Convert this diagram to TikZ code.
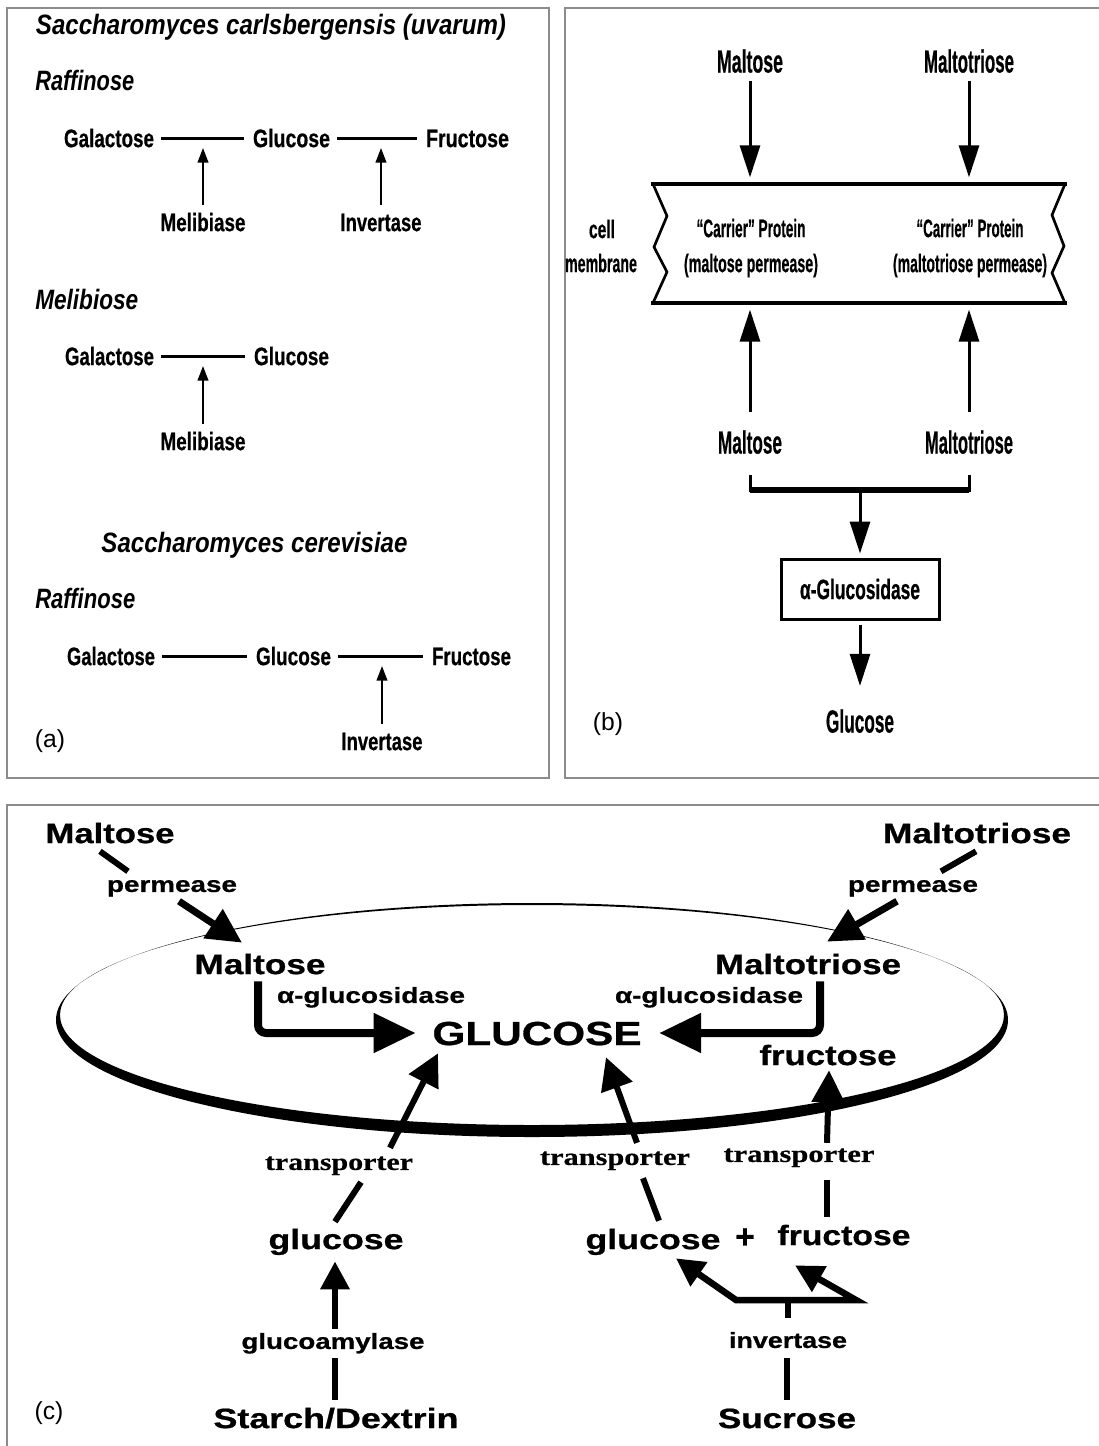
\documentclass[tikz,border=0pt]{standalone}
\usepackage{fontspec}
\usepackage{graphicx}
\setmainfont{Liberation Sans}[BoldFeatures={FakeBold=0.7}]
\newfontfamily\serifbf{Liberation Serif}[BoldFeatures={FakeBold=0.5}]
\usetikzlibrary{arrows.meta}
\newdimen\pxu \pxu=0.75pt
\newcommand\fitw[2]{\resizebox{#1\pxu}{\height}{#2}}
\begin{document}
\begin{tikzpicture}[x=0.75pt,y=-0.75pt,line cap=butt,
  txt/.style={inner sep=0pt,text depth=0pt,anchor=center},
  hA/.style={txt,font=\fontsize{21}{23}\selectfont\bfseries\itshape,text height=15.1pt},
  tA/.style={txt,font=\fontsize{19}{21}\selectfont\bfseries,text height=13.7pt},
  tB/.style={txt,font=\fontsize{24}{26}\selectfont\bfseries,text height=17.3pt},
  tBs/.style={txt,font=\fontsize{19}{21}\selectfont\bfseries,text height=13.7pt},
  tC/.style={txt,font=\fontsize{21}{23}\selectfont\bfseries,text height=15.1pt},
  tCm/.style={txt,font=\fontsize{21}{23}\selectfont\bfseries,text height=15.1pt},
  tCs/.style={txt,font=\fontsize{16.5}{18}\selectfont\bfseries,text height=11.9pt},
  tTr/.style={txt,font=\fontsize{18}{20}\selectfont\serifbf\bfseries,text height=11.9pt},
  plab/.style={inner sep=0pt,font=\fontsize{18.5}{20}\selectfont},
  border/.style={draw=black!45,line width=1.1pt},
  lnA/.style={line width=2.25pt,shorten <=5pt,shorten >=6.5pt},
  arA/.style={line width=1.5pt,-{Triangle[length=11pt,width=8pt]}},
  arB/.style={line width=2.25pt,-{Triangle[length=24pt,width=15pt]}},
  lnB/.style={line width=2.25pt},
  lnC/.style={line width=4.5pt},
  arC/.style={line width=5.25pt,-{Triangle[length=26pt,width=25pt]}},
  arE/.style={line width=6pt,-{Triangle[length=31.5pt,width=28.5pt]}},
  arT/.style={line width=4.5pt,-{Triangle[length=24pt,width=24pt]}},
  arF/.style={line width=4.9pt,-{Triangle[length=21pt,width=21pt]}},
  lnT/.style={line width=4.5pt}]
\useasboundingbox (0,0) rectangle (1099,1446);
\fill[white] (0,0) rectangle (1099,1446);
% ---------------- borders
\draw[border] (7,8) rectangle (549,778);
\draw[border] (1100,8) -- (565,8) -- (565,778) -- (1100,778);
\draw[border] (1100,805) -- (7,805) -- (7,1447);
% ---------------- panel (a)
\node[hA] (ha1) at (271,24) {\fitw{470}{Saccharomyces carlsbergensis (uvarum)}};
\node[hA,anchor=west] (ha2) at (35,80.5) {\fitw{99}{Raffinose}};
\node[tA] (g1) at (109,138) {\fitw{90}{Galactose}};
\node[tA] (gl1) at (291.5,138) {\fitw{77}{Glucose}};
\node[tA] (f1) at (467.5,138) {\fitw{83}{Fructose}};
\node[tA] (me1) at (203,222) {\fitw{85}{Melibiase}};
\node[tA] (in1) at (381,222) {\fitw{81}{Invertase}};
\draw[lnA] (g1) -- (gl1);
\draw[lnA] (gl1) -- (f1);
\draw[arA,shorten <=6pt,shorten >=7.5pt] (me1) -- (me1 |- g1);
\draw[arA,shorten <=6pt,shorten >=7.5pt] (in1) -- (in1 |- f1);
\node[hA,anchor=west] (ha3) at (35,299.5) {\fitw{103}{Melibiose}};
\node[tA] (g2) at (109.5,356) {\fitw{89}{Galactose}};
\node[tA] (gl2) at (291.5,356) {\fitw{75}{Glucose}};
\node[tA] (me2) at (203,441) {\fitw{85}{Melibiase}};
\draw[lnA] (g2) -- (gl2);
\draw[arA,shorten <=6pt,shorten >=7.5pt] (me2) -- (me2 |- g2);
\node[hA] (ha4) at (254.5,542) {\fitw{306}{Saccharomyces cerevisiae}};
\node[hA,anchor=west] (ha5) at (35,598.5) {\fitw{100}{Raffinose}};
\node[tA] (g3) at (111,656) {\fitw{88}{Galactose}};
\node[tA] (gl3) at (293.5,656) {\fitw{75}{Glucose}};
\node[tA] (f3) at (471.5,656) {\fitw{79}{Fructose}};
\node[tA] (in3) at (382,741) {\fitw{81}{Invertase}};
\draw[lnA] (g3) -- (gl3);
\draw[lnA] (gl3) -- (f3);
\draw[arA,shorten <=6pt,shorten >=7.5pt] (in3) -- (in3 |- f3);
\node[plab] (la) at (50,741) {(a)};
% ---------------- panel (b)
\coordinate (mtop) at (858,184);
\coordinate (mbot) at (858,303);
\draw[line width=3.5pt] (651,184) -- (1067,184);
\draw[line width=3.5pt] (651,303) -- (1067,303);
\draw[line width=2pt,line join=miter] (653,184) -- (667,216) -- (654,247) -- (667,272) -- (653,303);
\draw[line width=2pt,line join=miter] (1065,184) -- (1052,215) -- (1064,246) -- (1052,273) -- (1065,303);
\node[tB] (mt1) at (750,61) {\fitw{66}{Maltose}};
\node[tB] (mtr1) at (969,61) {\fitw{90}{Maltotriose}};
\draw[arB,shorten <=6pt,shorten >=5pt] (mt1) -- (mt1 |- mtop);
\draw[arB,shorten <=6pt,shorten >=5pt] (mtr1) -- (mtr1 |- mtop);
\node[tBs] (cp1) at (751,228) {\fitw{109}{``Carrier'' Protein}};
\node[tBs] (pp1) at (751,263) {\fitw{134}{(maltose permease)}};
\node[tBs] (cp2) at (970,228) {\fitw{107}{``Carrier'' Protein}};
\node[tBs] (pp2) at (970,263) {\fitw{154}{(maltotriose permease)}};
\node[tBs] (cell) at (602,229) {\fitw{26}{cell}};
\node[tBs] (memb) at (601,263) {\fitw{72}{membrane}};
\node[tB] (ml2) at (750,442) {\fitw{64}{Maltose}};
\node[tB] (mtr2) at (969,442) {\fitw{88}{Maltotriose}};
\draw[arB,shorten <=13.5pt,shorten >=5pt] (ml2) -- (ml2 |- mbot);
\draw[arB,shorten <=13.5pt,shorten >=5pt] (mtr2) -- (mtr2 |- mbot);
\coordinate (bj) at (860,490);
\draw[lnB,shorten >=16pt] (bj) -| (ml2);
\draw[lnB,shorten >=16pt] (bj) -| (mtr2);
\draw[line width=4.5pt] (ml2 |- bj) -- (mtr2 |- bj);
\node[txt,font=\fontsize{21}{23}\selectfont\bfseries,text height=15.1pt,draw,line width=2.25pt,minimum width=118.5pt,minimum height=45pt] (gb) at (860,589) {\fitw{120}{α-Glucosidase}};
\draw[arB,shorten >=3pt] (bj) -- (gb);
\node[tB] (glc) at (860,721) {\fitw{68}{Glucose}};
\draw[arB,shorten <=3.5pt,shorten >=17.5pt] (gb) -- (glc);
\node[plab] (lb) at (608,724) {(b)};
% ---------------- panel (c)
\fill[even odd rule] (532,1020) ellipse [x radius=476,y radius=117]
  (532,1015) ellipse [x radius=472,y radius=110];
\node[tC] (mA) at (110,833) {\fitw{129}{Maltose}};
\node[tCs] (pmA) at (172,884) {\fitw{130}{permease}};
\node[tC] (mB) at (260,964) {\fitw{131}{Maltose}};
\node[tC] (mtA) at (977,833) {\fitw{188}{Maltotriose}};
\node[tCs] (pmB) at (913,884) {\fitw{130}{permease}};
\node[tC] (mtB) at (808,964) {\fitw{186}{Maltotriose}};
\node[tCs] (agA) at (371,995) {\fitw{188}{α-glucosidase}};
\node[tCs] (agB) at (709,995) {\fitw{188}{α-glucosidase}};
\node[txt,font=\fontsize{25}{27}\selectfont\bfseries,text height=18pt] (GL) at (537,1033) {\fitw{209}{GLUCOSE}};
\node[tC] (frA) at (828,1055) {\fitw{137}{fructose}};
\node[tTr] (trA) at (339,1162) {\fitw{148}{transporter}};
\node[tTr] (trB) at (615,1157) {\fitw{150}{transporter}};
\node[tTr] (trC) at (799,1154) {\fitw{151}{transporter}};
\node[tCm] (glA) at (336,1239) {\fitw{135}{glucose}};
\node[tCm] (glB) at (653,1239) {\fitw{135}{glucose}};
\node[txt,font=\fontsize{25}{27}\selectfont\bfseries,text height=12pt] (plus) at (745,1240) {+};
\node[tCm] (frB) at (844,1235) {\fitw{133}{fructose}};
\node[tCs] (gaA) at (333,1341) {\fitw{183}{glucoamylase}};
\node[tCs] (invA) at (788,1340) {\fitw{118}{invertase}};
\node[tC] (sd) at (336,1418) {\fitw{245}{Starch/Dextrin}};
\node[tC] (suc) at (787,1418) {\fitw{138}{Sucrose}};
\node[plab] (lc) at (49,1413) {(c)};
% permease arrows
\draw[lnC] ([shift={(-10,8)}]mA.south) -- ++(28,20);
\draw[arC] ([shift={(7,9)}]pmA.south) -- ([shift={(-18,-11)}]mB.north);
\draw[lnC] ([shift={(-1,8)}]mtA.south) -- ++(-35,20);
\draw[arC] ([shift={(-16,9)}]pmB.south) -- ([shift={(19,-12)}]mtB.north);
% alpha-glucosidase elbows
\draw[arE,rounded corners=6pt,shorten >=12.4pt] ([shift={(-2,7)}]mB.south) |- (GL);
\draw[arE,rounded corners=6pt,shorten >=13pt] ([shift={(12,7)}]mtB.south) |- (GL);
% transporter paths
\draw[lnT] ([shift={(-1,-7)}]glA.north) -- ([shift={(22,12)}]trA.south);
\draw[arT] ([shift={(51,-6)}]trA.north) -- ([shift={(-99,8)}]GL.south);
\draw[lnT] ([shift={(6,-8)}]glB.north) -- ([shift={(28,13)}]trB.south);
\draw[arT] ([shift={(22,-6)}]trB.north) -- ([shift={(69,12)}]GL.south);
\draw[lnT] ([shift={(-17,-8)}]frB.north) -- ([shift={(28,18)}]trC.south);
\draw[arT] ([shift={(28,-3)}]trC.north) -- ([shift={(1,5)}]frA.south);
% glucoamylase
\draw[lnT] ([shift={(-1,-8)}]sd.north) -- ([shift={(2,9)}]gaA.south);
\draw[arF] ([shift={(2,-4)}]gaA.north) -- ([shift={(-1,12)}]glA.south);
% invertase fork
\coordinate (fk) at (788,1300);
\coordinate (fl) at (736,1300);
\coordinate (fr) at (856,1300);
\draw[lnT] ([shift={(0,-8)}]suc.north) -- ([shift={(-1,10)}]invA.south);
\draw[lnT] ([shift={(0,-14)}]invA.north) -- (fk);
\draw[arF,{Triangle[length=21pt,width=21pt]}-{Triangle[length=21pt,width=21pt]},line join=miter]
  ([shift={(23,9)}]glB.south) -- (fl) -- (fr) -- ([shift={(-49,20)}]frB.south);
\end{tikzpicture}
\end{document}
